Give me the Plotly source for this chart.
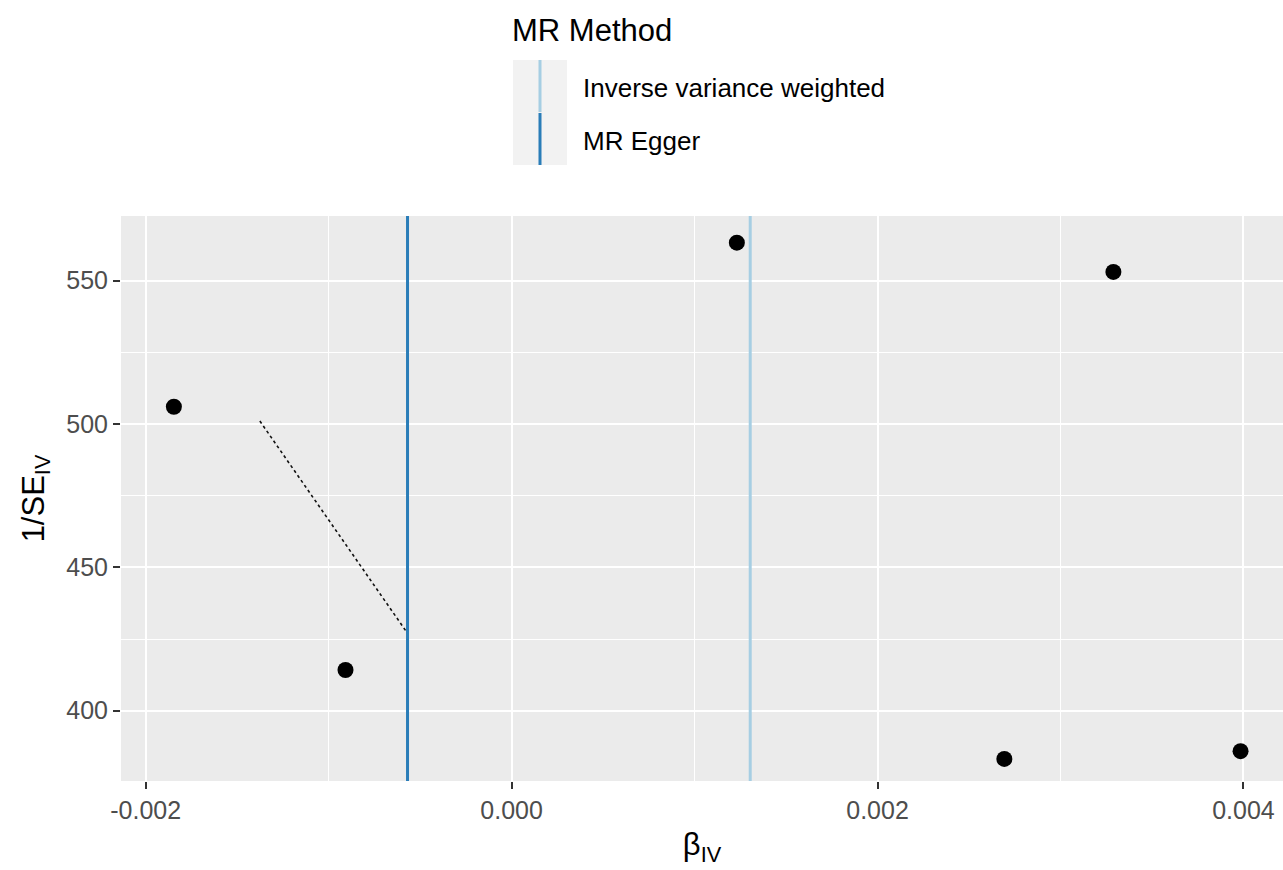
import plotly.graph_objects as go

# ---- data ----
beta_iv = [-0.001846, -0.000908, 0.001231, 0.003289, 0.002693, 0.003984]
inv_se_iv = [506.0, 414.2, 563.2, 553.0, 383.2, 385.9]

methods = ["Inverse variance weighted", "MR Egger"]
method_estimates = [0.001304, -0.000569]
method_colors = ["#a6cee3", "#2a7db8"]

dotted_x = [-0.001376, -0.000569]
dotted_y = [501.0, 427.0]

x_tickvals = [-0.002, 0.000, 0.002, 0.004]
x_ticktext = ["-0.002", "0.000", "0.002", "0.004"]
y_tickvals = [400, 450, 500, 550]
y_ticktext = ["400", "450", "500", "550"]

x_range = [-0.002135, 0.004216]
y_range = [375.5, 572.5]

FONT = "Liberation Sans, Arial, Helvetica, sans-serif"

fig = go.Figure()

# vertical method lines
for name, est, col in zip(methods, method_estimates, method_colors):
    fig.add_vline(x=est, line=dict(color=col, width=3), layer="above")

# dotted segment
fig.add_trace(go.Scatter(
    x=dotted_x, y=dotted_y, mode="lines",
    line=dict(color="#111111", width=1.6, dash="dot"),
    showlegend=False, hoverinfo="skip"))

# points
fig.add_trace(go.Scatter(
    x=beta_iv, y=inv_se_iv, mode="markers",
    marker=dict(color="black", size=16, line=dict(width=0)),
    showlegend=False))

# ---- manual ggplot-style legend (paper coords) ----
W, H = 1162.0, 565.0
L, B = 121.0, 781.0
def px(xp): return (xp - L) / W
def py(yp): return (B - yp) / H

fig.add_shape(type="rect", xref="paper", yref="paper",
              x0=px(513), x1=px(567), y0=py(165), y1=py(60),
              fillcolor="#F2F2F2", line=dict(width=0), layer="above")
key_tops = [60, 113]
key_bots = [112, 165]
for col, t, b in zip(method_colors, key_tops, key_bots):
    fig.add_shape(type="line", xref="paper", yref="paper",
                  x0=px(540), x1=px(540), y0=py(b), y1=py(t),
                  line=dict(color=col, width=3), layer="above")
label_ys = [88, 141]
for name, yl in zip(methods, label_ys):
    fig.add_annotation(xref="paper", yref="paper", x=px(581), y=py(yl),
                       text=name, showarrow=False, xanchor="left", yanchor="middle",
                       font=dict(family=FONT, size=26, color="#000000"))
fig.add_annotation(xref="paper", yref="paper", x=px(510), y=py(30),
                   text="MR Method", showarrow=False, xanchor="left", yanchor="middle",
                   font=dict(family=FONT, size=31, color="#000000"))

fig.update_layout(
    width=1283, height=870,
    margin=dict(l=121, r=0, t=216, b=89, autoexpand=False),
    paper_bgcolor="white", plot_bgcolor="#EBEBEB",
    font=dict(family=FONT),
    showlegend=False,
)

fig.update_xaxes(
    range=x_range, tickvals=x_tickvals, ticktext=x_ticktext,
    showgrid=True, gridcolor="white", gridwidth=2.2, zeroline=False,
    minor=dict(showgrid=True, gridcolor="white", gridwidth=1.2, dtick=0.001, tick0=-0.003, ticks=""),
    ticks="outside", ticklen=7, tickwidth=2, tickcolor="#333333",
    tickfont=dict(family=FONT, size=25, color="#4D4D4D"),
    title=dict(text="β<sub>IV</sub>", font=dict(family=FONT, size=31, color="#000000"), standoff=10),
    showline=False, automargin=False,
)
fig.update_yaxes(
    range=y_range, tickvals=y_tickvals, ticktext=y_ticktext,
    showgrid=True, gridcolor="white", gridwidth=2.2, zeroline=False,
    minor=dict(showgrid=True, gridcolor="white", gridwidth=1.2, dtick=25, tick0=375, ticks=""),
    ticks="outside", ticklen=7, tickwidth=2, tickcolor="#333333",
    tickfont=dict(family=FONT, size=25, color="#4D4D4D"),
    title=dict(text="1/SE<sub>IV</sub>", font=dict(family=FONT, size=31, color="#000000"), standoff=12),
    showline=False, automargin=False,
)

fig.write_html("out.html", config={"displayModeBar": False},
               post_script="document.body.style.margin='0';document.body.style.overflow='hidden';")
